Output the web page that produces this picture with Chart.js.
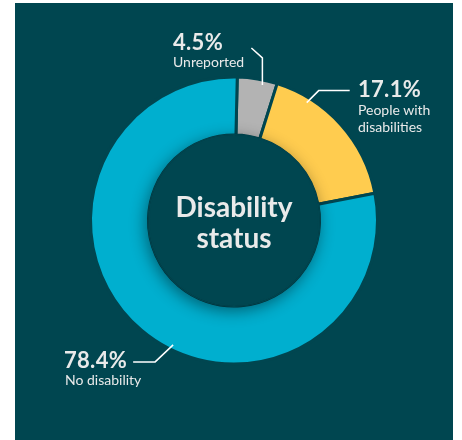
<!DOCTYPE html>
<html>
<head>
<meta charset="utf-8">
<script src="https://cdn.jsdelivr.net/npm/chart.js@4"></script>
<style>
  html, body { margin: 0; padding: 0; background: #fff; }
  body { width: 462px; height: 440px; position: relative; overflow: hidden; font-family: Lato, "Open Sans", sans-serif; }
  #panel { position: absolute; left: 15px; top: 3px; width: 438px; height: 437px; background: #004650; }
  #chart { position: absolute; left: 0; top: 0; }
  .lbl { position: absolute; color: #e9eaea; white-space: nowrap; line-height: normal; }
  .pct { font-weight: 700; font-size: 22px; letter-spacing: 0.3px; }
  .sub { font-size: 14px; }
  #title { position: absolute; left: 134px; width: 200px; top: 190.7px; text-align: center; color: #e9eaea;
           font-weight: 700; font-size: 28px; line-height: 31px; }
</style>
</head>
<body>
<div id="panel"></div>
<canvas id="chart" width="462" height="440"></canvas>
<div id="title">Disability<br>status</div>
<div class="lbl pct" style="left:173px;top:28.3px">4.5%</div>
<div class="lbl sub" style="left:173px;top:52.7px">Unreported</div>
<div class="lbl pct" style="left:358px;top:75.3px">17.1%</div>
<div class="lbl sub" style="left:358px;top:102.3px;line-height:16.5px">People with<br>disabilities</div>
<div class="lbl pct" style="left:64px;top:346.3px">78.4%</div>
<div class="lbl sub" style="left:65px;top:371.2px">No disability</div>
<script>
const categories = ["Unreported", "People with disabilities", "No disability"];
const shares = [4.5, 17.1, 78.4];
const colors = ["#b3b3b3", "#ffcc4f", "#00afcf"];

const panelColor = "#004650";

// leader line: where on the arc it starts (fraction of arc span), then elbow and end offsets
const leaders = [
  { frac: 0.65, elbow: [0, -27], end: [-11, -10] },
  { frac: 0.23, elbow: [12, -12], end: [31, 0] },
  { frac: 0.45, elbow: [-18, 17], end: [-22, 0] }
];

const innerShadow = {
  id: "innerShadow",
  afterDatasetsDraw(chart) {
    const arc = chart.getDatasetMeta(0).data[0];
    if (!arc) return;
    const { x, y, innerRadius, outerRadius } = arc.getProps(["x", "y", "innerRadius", "outerRadius"], true);
    const ctx = chart.ctx;
    ctx.save();
    ctx.beginPath();
    ctx.arc(x, y, outerRadius, 0, Math.PI * 2);
    ctx.arc(x, y, innerRadius, 0, Math.PI * 2, true);
    ctx.clip();
    ctx.beginPath();
    ctx.arc(x, y, innerRadius + 1, 0, Math.PI * 2);
    ctx.fillStyle = panelColor;
    ctx.shadowColor = "rgba(0,0,0,0.45)";
    ctx.shadowBlur = 16;
    ctx.shadowOffsetX = -2;
    ctx.shadowOffsetY = 4;
    ctx.fill();
    ctx.restore();
  }
};

const leaderLines = {
  id: "leaderLines",
  afterDraw(chart) {
    const ctx = chart.ctx;
    ctx.save();
    ctx.strokeStyle = "#ffffff";
    ctx.lineWidth = 1.5;
    chart.getDatasetMeta(0).data.forEach((arc, i) => {
      const l = leaders[i];
      const p = arc.getProps(["x", "y", "startAngle", "endAngle", "outerRadius"], true);
      const a = p.startAngle + (p.endAngle - p.startAngle) * l.frac;
      const r = p.outerRadius - 5;
      const ax = p.x + Math.cos(a) * r;
      const ay = p.y + Math.sin(a) * r;
      const ex = ax + l.elbow[0], ey = ay + l.elbow[1];
      ctx.beginPath();
      ctx.moveTo(ax, ay);
      ctx.lineTo(ex, ey);
      ctx.lineTo(ex + l.end[0], ey + l.end[1]);
      ctx.stroke();
    });
    ctx.restore();
  }
};

new Chart(document.getElementById("chart"), {
  type: "doughnut",
  data: {
    labels: categories,
    datasets: [{
      data: shares,
      backgroundColor: colors,
      borderColor: panelColor,
      borderWidth: 3,
      hoverOffset: 0
    }]
  },
  options: {
    responsive: false,
    animation: false,
    rotation: 1.3,
    cutout: "59.6%",
    layout: { padding: { left: 89, right: 83, top: 75.5, bottom: 74.5 } },
    plugins: { legend: { display: false }, tooltip: { enabled: false } }
  },
  plugins: [innerShadow, leaderLines]
});
</script>
</body>
</html>
